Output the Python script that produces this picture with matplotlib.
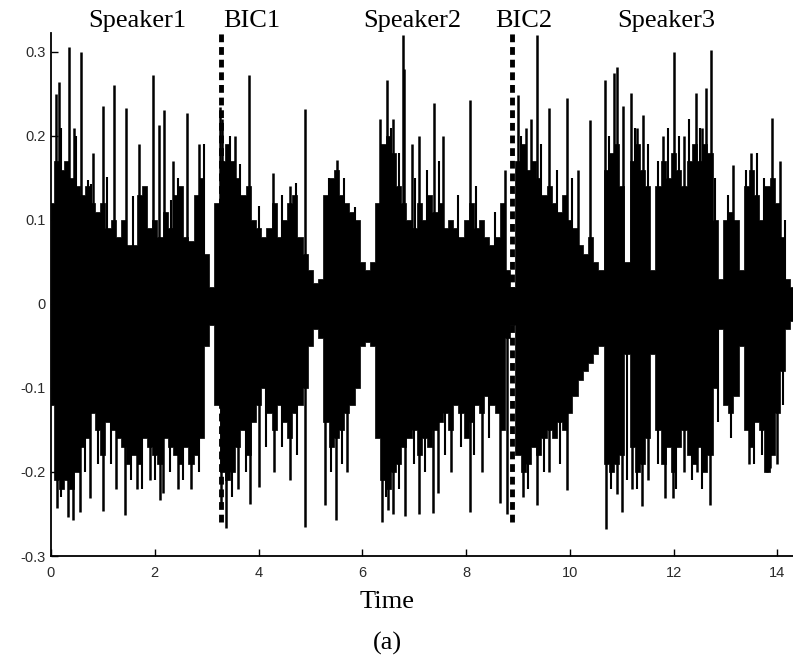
import numpy as np
import matplotlib.pyplot as plt

# огинаюча сигналу, крок 0.1 с (0 ... 14.3 с)
upper = [
    0.12, 0.17, 0.16, 0.17, 0.15, 0.14, 0.13, 0.14, 0.12, 0.11,
    0.12, 0.09, 0.10, 0.08, 0.10, 0.07, 0.07, 0.13, 0.14, 0.09,
    0.10, 0.08, 0.11, 0.09, 0.13, 0.14, 0.08, 0.075, 0.13, 0.15,
    0.06, 0.02, 0.12, 0.17, 0.19, 0.17, 0.15, 0.13, 0.14, 0.10,
    0.09, 0.08, 0.09, 0.12, 0.08, 0.10, 0.12, 0.13, 0.08, 0.06,
    0.04, 0.025, 0.03, 0.13, 0.15, 0.16, 0.13, 0.12, 0.11, 0.10,
    0.05, 0.04, 0.05, 0.12, 0.19, 0.20, 0.18, 0.14, 0.12, 0.10,
    0.09, 0.12, 0.10, 0.13, 0.11, 0.12, 0.09, 0.10, 0.09, 0.08,
    0.10, 0.12, 0.09, 0.10, 0.08, 0.07, 0.08, 0.12, 0.04, 0.02,
    0.17, 0.19, 0.16, 0.17, 0.15, 0.13, 0.14, 0.12, 0.11, 0.13,
    0.10, 0.09, 0.07, 0.06, 0.08, 0.05, 0.04, 0.16, 0.18, 0.19,
    0.14, 0.05, 0.17, 0.19, 0.16, 0.14, 0.04, 0.14, 0.17, 0.15,
    0.18, 0.16, 0.14, 0.17, 0.19, 0.17, 0.19, 0.18, 0.10, 0.03,
    0.10, 0.11, 0.10, 0.04, 0.14, 0.16, 0.13, 0.10, 0.14, 0.15,
    0.12, 0.08, 0.03, 0.02,
]
lower = [
    -0.12, -0.21, -0.22, -0.21, -0.22, -0.20, -0.17, -0.16, -0.13, -0.15,
    -0.18, -0.14, -0.15, -0.16, -0.17, -0.19, -0.18, -0.19, -0.16, -0.17,
    -0.18, -0.19, -0.16, -0.17, -0.18, -0.19, -0.17, -0.19, -0.18, -0.16,
    -0.05, -0.025, -0.12, -0.20, -0.21, -0.20, -0.17, -0.15, -0.18, -0.14,
    -0.12, -0.10, -0.13, -0.15, -0.12, -0.14, -0.16, -0.13, -0.12, -0.10,
    -0.05, -0.03, -0.04, -0.14, -0.17, -0.16, -0.15, -0.13, -0.12, -0.10,
    -0.05, -0.045, -0.05, -0.16, -0.21, -0.22, -0.20, -0.19, -0.17, -0.16,
    -0.15, -0.18, -0.16, -0.17, -0.15, -0.14, -0.13, -0.15, -0.12, -0.13,
    -0.16, -0.14, -0.12, -0.13, -0.11, -0.12, -0.13, -0.15, -0.04, -0.025,
    -0.18, -0.20, -0.19, -0.17, -0.18, -0.16, -0.15, -0.16, -0.14, -0.15,
    -0.13, -0.11, -0.09, -0.08, -0.07, -0.06, -0.05, -0.19, -0.20, -0.19,
    -0.18, -0.06, -0.17, -0.20, -0.19, -0.16, -0.06, -0.15, -0.19, -0.17,
    -0.20, -0.17, -0.15, -0.18, -0.19, -0.17, -0.20, -0.18, -0.10, -0.03,
    -0.12, -0.13, -0.11, -0.05, -0.15, -0.17, -0.14, -0.15, -0.20, -0.18,
    -0.13, -0.08, -0.03, -0.02,
]
t_env = np.arange(len(upper)) * 0.1

# окремі піки (великі)
peak_up_t = [0.10, 0.15, 0.35, 0.45, 0.58, 0.80, 1.00, 1.22, 1.45, 1.70,
             1.97, 2.09, 2.18, 2.35, 2.63, 2.85, 3.25, 3.30, 3.55, 3.82,
             4.28, 4.60, 4.90, 5.52, 6.35, 6.47, 6.60, 6.78, 6.81, 6.95,
             7.10, 7.38, 7.55, 8.07, 8.75, 9.00, 9.15, 9.25, 9.36, 9.60,
             9.94, 10.15, 10.39, 10.67, 10.85, 10.90, 11.02, 11.17, 11.30, 11.41,
             11.80, 12.00, 12.20, 12.43, 12.55, 12.62, 12.72, 13.15, 13.50, 13.90,
             14.05]
peak_up_v = [0.25, 0.264, 0.306, 0.21, 0.30, 0.18, 0.236, 0.26, 0.233, 0.19,
             0.273, 0.213, 0.231, 0.17, 0.227, 0.19, 0.235, 0.22, 0.20, 0.273,
             0.156, 0.14, 0.232, 0.171, 0.22, 0.267, 0.22, 0.32, 0.28, 0.19,
             0.20, 0.239, 0.20, 0.243, 0.16, 0.249, 0.21, 0.22, 0.32, 0.233,
             0.245, 0.16, 0.219, 0.267, 0.275, 0.282, 0.236, 0.251, 0.21, 0.225,
             0.20, 0.30, 0.20, 0.251, 0.21, 0.257, 0.302, 0.165, 0.18, 0.221,
             0.17]
peak_dn_t = [0.11, 0.33, 0.43, 0.56, 0.75, 1.00, 1.25, 1.43, 1.65, 1.90,
             2.10, 2.16, 2.45, 2.70, 3.28, 3.38, 3.60, 3.83, 4.00, 4.30,
             4.60, 4.90, 5.28, 5.49, 5.70, 6.37, 6.50, 6.60, 6.82, 7.09,
             7.36, 7.45, 7.70, 8.07, 8.30, 8.65, 8.78, 9.10, 9.36, 9.60,
             9.94, 10.69, 10.90, 11.00, 11.20, 11.39, 11.50, 11.83, 11.98, 12.20,
             12.45, 12.70, 13.45, 13.80, 13.85, 14.00]
peak_dn_v = [-0.243, -0.253, -0.257, -0.248, -0.231, -0.246, -0.22, -0.251, -0.22, -0.21,
             -0.233, -0.225, -0.22, -0.22, -0.24, -0.267, -0.22, -0.238, -0.218, -0.20,
             -0.21, -0.266, -0.239, -0.257, -0.20, -0.26, -0.245, -0.25, -0.252, -0.25,
             -0.249, -0.225, -0.20, -0.248, -0.20, -0.237, -0.25, -0.23, -0.239, -0.20,
             -0.221, -0.268, -0.226, -0.248, -0.22, -0.24, -0.21, -0.231, -0.231, -0.20,
             -0.20, -0.239, -0.19, -0.20, -0.195, -0.19]

# дрібніші піки біля краю огинаючої
small_up_t = [0.20, 0.49, 0.72, 0.78, 1.07, 1.59, 1.84, 2.32, 2.45, 2.94,
              3.45, 3.64, 4.00, 4.45, 4.72, 5.35, 5.65, 5.85, 6.55, 6.70,
              7.02, 7.25, 7.48, 7.85, 8.20, 8.55, 9.05, 9.45, 9.75, 10.05,
              10.75, 11.25, 11.50, 11.70, 11.90, 12.10, 12.30, 12.50, 12.80, 13.05,
              13.40, 13.60, 13.75, 14.15]
small_up_v = [0.21, 0.20, 0.147, 0.143, 0.151, 0.128, 0.131, 0.124, 0.15, 0.19,
              0.20, 0.166, 0.116, 0.13, 0.144, 0.15, 0.15, 0.115, 0.21, 0.18,
              0.15, 0.16, 0.17, 0.13, 0.14, 0.11, 0.20, 0.19, 0.16, 0.15,
              0.20, 0.21, 0.19, 0.17, 0.21, 0.20, 0.22, 0.21, 0.15, 0.13,
              0.16, 0.18, 0.15, 0.10]
small_dn_t = [0.20, 0.65, 0.90, 1.15, 1.55, 1.75, 2.00, 2.30, 2.55, 2.85,
              3.48, 3.75, 4.15, 4.45, 4.75, 5.40, 5.60, 6.45, 6.70, 7.00,
              7.20, 7.60, 7.90, 8.15, 8.45, 9.20, 9.50, 9.80, 10.80, 11.10,
              11.30, 11.70, 12.05, 12.35, 12.55, 12.85, 13.10, 13.55, 13.70, 14.10]
small_dn_v = [-0.23, -0.20, -0.19, -0.19, -0.21, -0.22, -0.21, -0.20, -0.21, -0.20,
              -0.23, -0.20, -0.17, -0.17, -0.18, -0.20, -0.19, -0.23, -0.22, -0.19,
              -0.20, -0.18, -0.17, -0.18, -0.16, -0.22, -0.20, -0.19, -0.22, -0.21,
              -0.22, -0.19, -0.22, -0.21, -0.22, -0.14, -0.16, -0.19, -0.18, -0.12]

bic_t = [3.27, 8.88]
labels = ['Speaker1', 'BIC1', 'Speaker2', 'BIC2', 'Speaker3']
label_t = [0.71, 3.31, 6.01, 8.57, 10.92]

fig = plt.figure(figsize=(7.93, 6.58), dpi=100)
ax = fig.add_axes([0.0643, 0.155, 0.9357, 0.795])

ax.fill_between(t_env, lower, upper, step='mid', color='black', linewidth=0.5)
ax.vlines(peak_up_t, 0, peak_up_v, color='black', linewidth=1.8)
ax.vlines(peak_dn_t, peak_dn_v, 0, color='black', linewidth=1.8)
ax.vlines(small_up_t, 0, small_up_v, color='black', linewidth=1.5)
ax.vlines(small_dn_t, small_dn_v, 0, color='black', linewidth=1.5)

for x in bic_t:
    ax.plot([x, x], [-0.26, 0.33], color='black', linewidth=3.5,
            linestyle=(0, (1.6, 1.0)), dash_capstyle='butt')

for s, x in zip(labels, label_t):
    ax.text(x, 0.33, s, fontsize=19, family='Liberation Serif',
            ha='left', va='baseline', clip_on=False)

ax.set_xlim(0, 14.3)
ax.set_ylim(-0.3, 0.3226)
ax.set_xticks([0, 2, 4, 6, 8, 10, 12, 14])
ax.set_yticks([-0.3, -0.2, -0.1, 0, 0.1, 0.2, 0.3])
ax.set_yticklabels(['-0.3', '-0.2', '-0.1', '0', '0.1', '0.2', '0.3'])
ax.tick_params(direction='in', length=5, width=1, labelsize=10.5,
               labelcolor='#2a2a2a', labelfontfamily='Liberation Sans')
ax.tick_params(axis='x', pad=7)
ax.tick_params(axis='y', pad=4)
for side in ['top', 'right']:
    ax.spines[side].set_visible(False)
for side in ['left', 'bottom']:
    ax.spines[side].set_linewidth(1.3)

fig.text(387.5 / 793, 1 - 608 / 658, 'Time', fontsize=19,
         family='Liberation Serif', ha='center', va='baseline')
fig.text(387 / 793, 1 - 650 / 658, '(a)', fontsize=19,
         family='Liberation Serif', ha='center', va='baseline')

fig.savefig('out.png', dpi=100)
